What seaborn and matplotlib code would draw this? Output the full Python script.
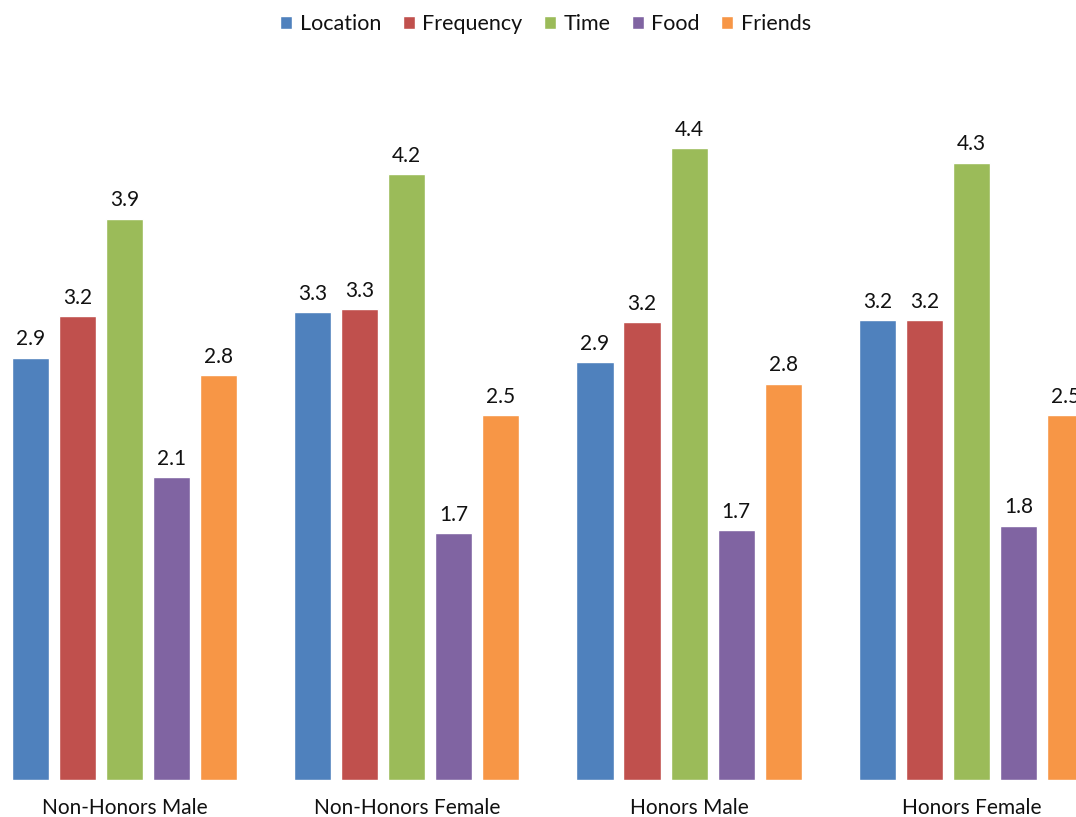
import matplotlib
matplotlib.use("Agg")
import matplotlib.pyplot as plt
import seaborn as sns
import pandas as pd

# Survey averages per student group
groups = ["Non-Honors Male", "Non-Honors Female", "Honors Male", "Honors Female"]
series = ["Location", "Frequency", "Time", "Food", "Friends"]
location = [2.94, 3.26, 2.91, 3.20]
frequency = [3.23, 3.28, 3.19, 3.20]
time_vals = [3.91, 4.22, 4.40, 4.30]
food = [2.11, 1.72, 1.74, 1.77]
friends = [2.82, 2.54, 2.76, 2.54]
colors = ["#4F81BD", "#C0504D", "#9BBB59", "#8064A2", "#F79646"]

rows = []
for name, vals in zip(series, [location, frequency, time_vals, food, friends]):
    for g, v in zip(groups, vals):
        rows.append({"group": g, "series": name, "value": v})
df = pd.DataFrame(rows)

sns.set_theme(style="white")
plt.rcParams["font.family"] = ["Lato", "DejaVu Sans"]
TEXT = "#111111"

fig = plt.figure(figsize=(10.76, 8.17), dpi=100)
ax = fig.add_axes([0.0, 37 / 817, 1.0, 718 / 817])

sns.barplot(data=df, x="group", y="value", hue="series", order=groups,
            hue_order=series, palette=colors, saturation=1, width=0.833,
            gap=0.21, errorbar=None, ax=ax)

for cont in ax.containers:
    ax.bar_label(cont, fmt="%.1f", padding=6, fontsize=15, color=TEXT)

ax.set_xlim(-124.5 / 282.3, (1076 - 124.5) / 282.3)
ax.set_ylim(0, 5)
ax.set_yticks([])
ax.set_xlabel("")
ax.set_ylabel("")
ax.tick_params(axis="x", length=0, pad=13, labelsize=15, labelcolor=TEXT)
for s in ax.spines.values():
    s.set_visible(False)

handles, labels = ax.get_legend_handles_labels()
ax.get_legend().remove()
fig.legend(handles, labels, loc="center", bbox_to_anchor=(0.507, 1 - 24 / 817),
           ncol=5, frameon=False, fontsize=15.5, handlelength=0.55,
           handleheight=0.55, handletextpad=0.35, columnspacing=1.0,
           labelcolor=TEXT)

fig.savefig("out.png", dpi=100)
